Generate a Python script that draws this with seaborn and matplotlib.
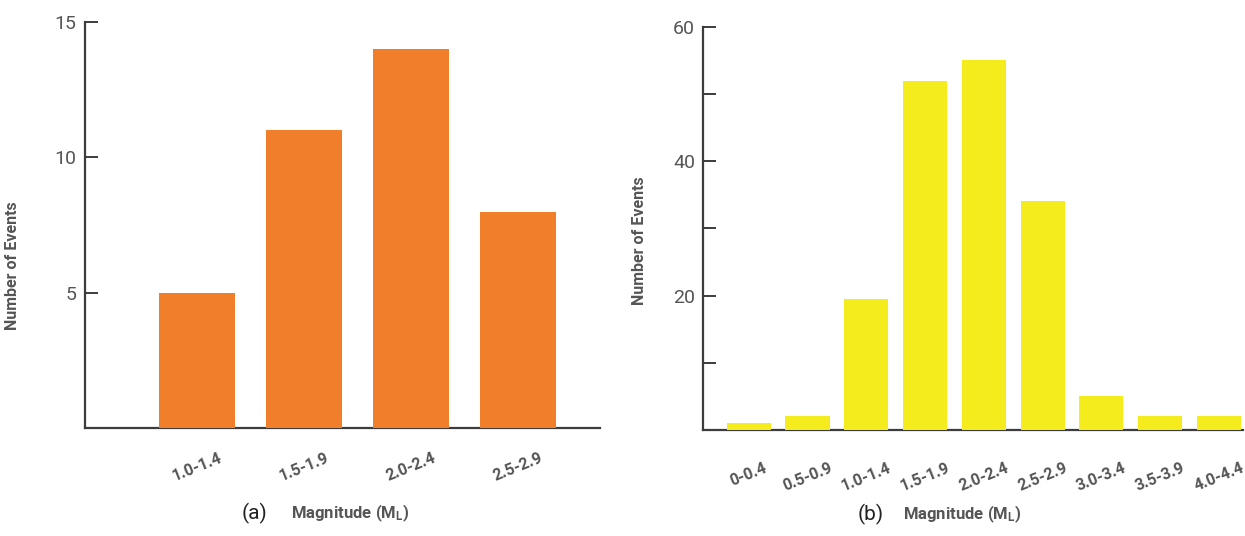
import matplotlib
matplotlib.use("Agg")
import matplotlib.pyplot as plt
import pandas as pd
import seaborn as sns

# panel (a)
BINS_A = ["1.0-1.4", "1.5-1.9", "2.0-2.4", "2.5-2.9"]
COUNTS_A = [5, 11, 14, 8]
# panel (b)
BINS_B = ["0-0.4", "0.5-0.9", "1.0-1.4", "1.5-1.9", "2.0-2.4",
          "2.5-2.9", "3.0-3.4", "3.5-3.9", "4.0-4.4"]
COUNTS_B = [1, 2, 19.5, 52, 55, 34, 5, 2, 2]

YTICKS_A = [5, 10, 15]
YTICKS_B = [0, 10, 20, 30, 40, 50, 60]
YLABELS_B = ["", "", "20", "", "40", "", "60"]

ORANGE = "#F07E2A"
YELLOW = "#F5EC1E"
AXIS_C = "#3c3c3c"
TEXT_C = "#555555"

sns.set_style("white")
plt.rcParams["font.family"] = ["Roboto", "DejaVu Sans"]
plt.rcParams["mathtext.default"] = "regular"

fig = plt.figure(figsize=(12.45, 5.36), dpi=100)
ax1 = fig.add_axes([0.068, 0.2015, 0.414, 0.757])
ax2 = fig.add_axes([0.565, 0.198, 0.433, 0.752])

df_a = pd.DataFrame({"bin": BINS_A, "count": COUNTS_A})
df_b = pd.DataFrame({"bin": BINS_B, "count": COUNTS_B})

sns.barplot(data=df_a, x="bin", y="count", color=ORANGE, saturation=1,
            width=0.71, linewidth=0, ax=ax1, zorder=3)
sns.barplot(data=df_b, x="bin", y="count", color=YELLOW, saturation=1,
            width=0.75, linewidth=0, ax=ax2, zorder=3)

for ax in (ax1, ax2):
    ax.spines[["top", "right"]].set_visible(False)
    for s in ("left", "bottom"):
        ax.spines[s].set_color(AXIS_C)
        ax.spines[s].set_linewidth(1.6)
        ax.spines[s].set_zorder(2)
    ax.tick_params(axis="y", left=True, direction="in", length=9, width=1.4,
                   color=AXIS_C, labelcolor=TEXT_C, labelsize=14, pad=6)
    ax.tick_params(axis="x", bottom=False, length=0, labelcolor=TEXT_C,
                   labelsize=11.5)
    ax.set_ylabel("Number of Events", color=TEXT_C, fontsize=11.5,
                  fontweight="bold")
    ax.set_xlabel("")

ax1.set_xlim(-1.05, 3.77)
ax1.set_ylim(0, 15)
ax1.set_yticks(YTICKS_A)
ax1.set_yticklabels([str(v) for v in YTICKS_A])
ax1.set_xticks(range(len(BINS_A)))
ax1.set_xticklabels(BINS_A, rotation=22, ha="center", fontweight="bold")
ax1.tick_params(axis="x", pad=16)
ax1.yaxis.set_label_coords(-0.125, 0.4)

ax2.set_xlim(-0.77, 8.4)
ax2.set_ylim(0, 60)
ax2.set_yticks(YTICKS_B)
ax2.set_yticklabels(YLABELS_B)
ax2.set_xticks(range(len(BINS_B)))
ax2.set_xticklabels(BINS_B, rotation=22, ha="center", fontweight="bold")
ax2.tick_params(axis="x", pad=22)
ax2.yaxis.set_label_coords(-0.105, 0.47)

for ax, tag, x_tag, x_lab in ((ax1, "(a)", 0.33, 0.40), (ax2, "(b)", 0.31, 0.37)):
    ax.text(x_tag, -0.21, tag, transform=ax.transAxes, fontsize=15,
            color="#222222", ha="center", va="center")
    ax.text(x_lab, -0.21, "Magnitude (M$_L$)", transform=ax.transAxes,
            fontsize=12, color=TEXT_C, fontweight="bold", ha="left",
            va="center")

fig.savefig("out.png", dpi=100)
